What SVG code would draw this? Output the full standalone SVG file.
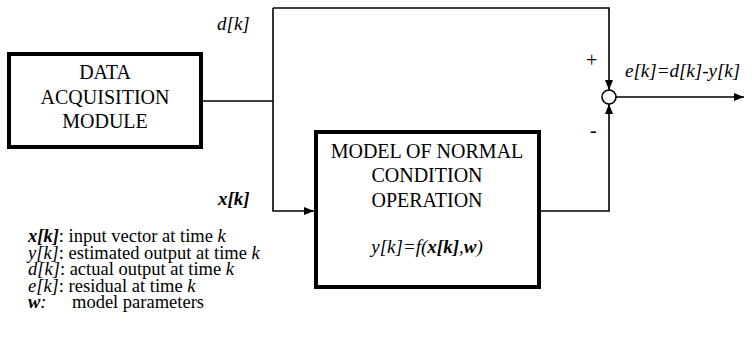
<svg xmlns="http://www.w3.org/2000/svg" width="754" height="343" viewBox="0 0 754 343" font-family="'Liberation Serif', 'Times New Roman', serif">
<defs>
<style>
text{font-family:'Liberation Serif','Times New Roman',serif;fill:#000}
.box{fill:#fff;stroke:#000;stroke-width:4}
.ln{fill:none;stroke:#000;stroke-width:1.6}
.it{font-style:italic}
.bi{font-style:italic;font-weight:bold}
</style>
<marker id="ah" markerWidth="10" markerHeight="8" refX="10" refY="4" orient="auto" markerUnits="userSpaceOnUse">
<path d="M0,0 L10,4 L0,8 Z" fill="#000"/>
</marker>
</defs>
<rect width="754" height="343" fill="#fff"/>
<g id="connectors">
<polyline class="ln" points="202,101 273,101"/>
<polyline class="ln" points="273,8 273,211 314,211" marker-end="url(#ah)"/>
<polyline class="ln" points="273,8 609,8 609,90" marker-end="url(#ah)"/>
<polyline class="ln" points="539,211 609,211 609,104" marker-end="url(#ah)"/>
<polyline class="ln" points="616,97 744,97" marker-end="url(#ah)"/>
</g>
<g id="data-acquisition">
<rect class="box" x="9" y="54" width="192" height="93"/>
<text font-size="20" text-anchor="middle"><tspan x="105" y="79">DATA</tspan><tspan x="105" y="104">ACQUISITION</tspan><tspan x="105" y="128">MODULE</tspan></text>
</g>
<g id="model">
<rect class="box" x="316" y="132" width="223" height="155"/>
<text font-size="20" text-anchor="middle"><tspan x="427" y="158">MODEL OF NORMAL</tspan><tspan x="427" y="182">CONDITION</tspan><tspan x="427" y="207">OPERATION</tspan></text>
<text font-size="19" text-anchor="middle" x="427" y="253"><tspan class="it">y[k]=f(</tspan><tspan class="bi">x[k]</tspan><tspan class="it">,</tspan><tspan class="bi">w</tspan><tspan class="it">)</tspan></text>
</g>
<g id="sum">
<circle cx="609" cy="97" r="7" fill="#fff" stroke="#000" stroke-width="1.6"/>
<text font-size="20" x="586" y="67">+</text>
<text font-size="20" x="590" y="137">-</text>
</g>
<g id="labels">
<text class="it" font-size="19" x="217" y="30">d[k]</text>
<text class="bi" font-size="19" x="218" y="205">x[k]</text>
<text class="it" font-size="19" x="625" y="77">e[k]=d[k]-y[k]</text>
</g>
<g id="legend" font-size="18.5">
<text x="28" y="242"><tspan class="bi">x[k]</tspan>: input vector at time <tspan class="it">k</tspan></text>
<text x="28" y="258.5"><tspan class="it">y[k]</tspan>: estimated output at time <tspan class="it">k</tspan></text>
<text x="28" y="275"><tspan class="it">d[k]</tspan>: actual output at time <tspan class="it">k</tspan></text>
<text x="28" y="291.5"><tspan class="it">e[k]</tspan>: residual at time <tspan class="it">k</tspan></text>
<text x="28" y="308"><tspan class="bi">w</tspan><tspan class="it">:</tspan></text>
<text x="72" y="308">model parameters</text>
</g>
</svg>
